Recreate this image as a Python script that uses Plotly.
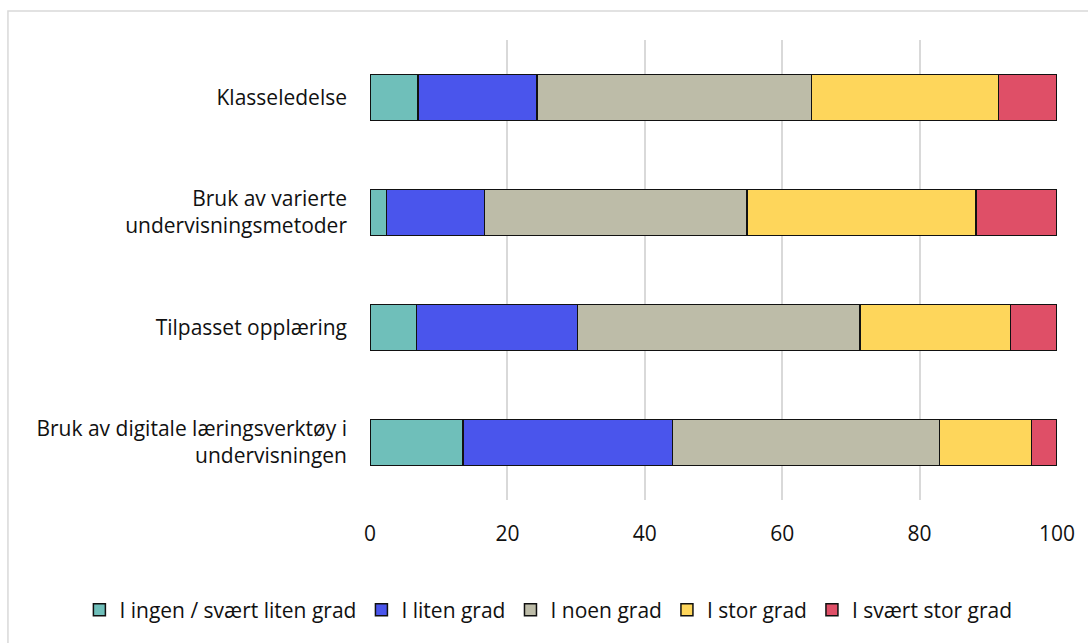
import plotly.graph_objects as go

# categories, top to bottom as shown
categories = [
    "Klasseledelse",
    "Bruk av varierte<br>undervisningsmetoder",
    "Tilpasset opplæring",
    "Bruk av digitale læringsverktøy i<br>undervisningen",
]

# percent per answer, same order as categories
ingen_svaert_liten = [7.0, 2.4, 6.8, 13.5]
liten = [17.3, 14.3, 23.4, 30.5]
noen = [40.0, 38.2, 41.1, 38.9]
stor = [27.2, 33.3, 21.9, 13.4]
svaert_stor = [8.5, 11.8, 6.8, 3.7]

series_names = ["I ingen / svært liten grad", "I liten grad", "I noen grad",
                "I stor grad", "I svært stor grad"]
series_values = [ingen_svaert_liten, liten, noen, stor, svaert_stor]
colors = ["#6FBFBA", "#4A55EC", "#BDBCA8", "#FED65B", "#DF4F67"]

x_ticks = [0, 20, 40, 60, 80, 100]

FONT = "Open Sans"

fig = go.Figure()
for name, vals, col in zip(series_names, series_values, colors):
    fig.add_trace(go.Bar(
        y=categories, x=vals, name=name, orientation="h",
        marker=dict(color=col, line=dict(color="#111111", width=1.5)),
        width=0.4,
    ))

fig.update_layout(
    barmode="stack",
    width=1088, height=643,
    margin=dict(l=370, r=31, t=40, b=141),
    paper_bgcolor="white", plot_bgcolor="white",
    font=dict(family=FONT, size=21, color="#111111"),
    showlegend=True,
    # anchored left of the plot area so plotly lets it use the full width
    legend=dict(orientation="h", x=-0.423, xanchor="left", y=-0.195, yanchor="top",
                traceorder="normal", font=dict(size=21), itemwidth=30,
                itemclick=False),
    xaxis=dict(range=[0, 100], tickvals=x_ticks, showgrid=True,
               gridcolor="#D9D9D9", gridwidth=2, zeroline=False,
               showline=False, ticks="", ticklabelstandoff=19),
    yaxis=dict(autorange="reversed", categoryorder="array", categoryarray=categories,
               showgrid=False, zeroline=False, showline=False, ticks="",
               ticklabelstandoff=22),
    shapes=[dict(type="rect", xref="paper", yref="paper",
                 x0=-0.527, x1=1.1, y0=-0.45, y1=1.0628,
                 line=dict(color="#D9D9D9", width=1.5), layer="below")],
)

fig.write_html("out.html", config={"displayModeBar": False},
               post_script="document.body.style.margin='0';")
